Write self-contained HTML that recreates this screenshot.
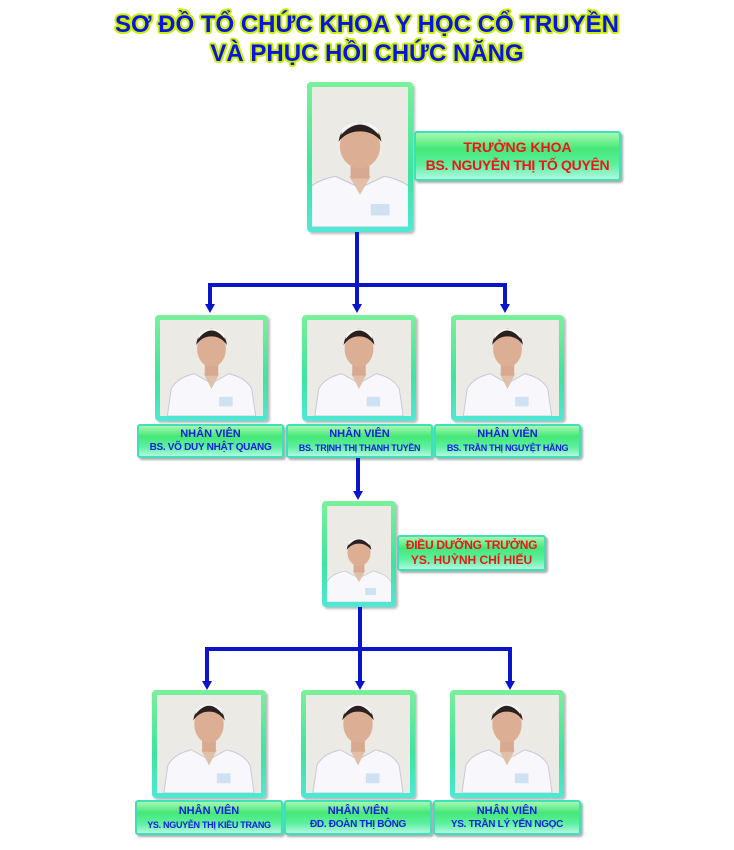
<!DOCTYPE html>
<html><head><meta charset="utf-8"><style>
body{margin:0;width:734px;height:850px;background:#fff;position:relative;overflow:hidden;font-family:"Liberation Sans",sans-serif;font-weight:bold}
.t{position:absolute;left:0;width:734px;text-align:center;font-size:24px;color:#0a14e0;
text-shadow:2px 0 0 #c8f000,-2px 0 0 #c8f000,0 2px 0 #c8f000,0 -2px 0 #c8f000,1.5px 1.5px 0 #c8f000,-1.5px -1.5px 0 #c8f000,1.5px -1.5px 0 #c8f000,-1.5px 1.5px 0 #c8f000}
.p{position:absolute;box-sizing:border-box;border-radius:4px;padding:5px;background:linear-gradient(180deg,#7af09a,#3ee3a0 60%,#4fe8d6);box-shadow:2px 2px 2px #bbb}
.p .in{width:100%;height:100%;background:#eceae4;overflow:hidden}
.p svg{width:100%;height:100%;display:block}
.l{position:absolute;box-sizing:border-box;border-radius:3px;background:linear-gradient(180deg,#a8f7b0 0%,#44e878 35%,#5ef0a0 70%,#b0f8e0 100%);border:2px solid #3de0b8;box-shadow:2px 2px 2px #aaa;text-align:center;color:#1420e0;font-size:11px;line-height:14px;display:flex;flex-direction:column;justify-content:center;white-space:nowrap;padding:0}
.l div{white-space:nowrap}
.s{font-size:10px;letter-spacing:-0.3px}
.r{color:#f01414;font-size:14px;line-height:18px}
.ln{position:absolute;background:#0a14c8}
.ar{position:absolute;width:0;height:0;border-left:5px solid transparent;border-right:5px solid transparent;border-top:9px solid #0a14c8}
</style></head><body>
<div class="t" style="top:11px">SƠ ĐỒ TỔ CHỨC KHOA Y HỌC CỔ TRUYỀN</div>
<div class="t" style="top:40px">VÀ PHỤC HỒI CHỨC NĂNG</div>

<svg width="0" height="0" style="position:absolute"><defs>
<g id="pp">
<path d="M4 100 L8 72 Q14 60 32 56 L50 66 L68 56 Q86 60 92 72 L96 100 Z" fill="#f8f8fc" stroke="#c8c8d8" stroke-width="1"/>
<path d="M42 56 L50 72 L58 56 Z" fill="#e0c0a8"/>
<rect x="43" y="44" width="14" height="14" fill="#d8a890"/>
<ellipse cx="50" cy="30" rx="15" ry="19" fill="#dcae94"/>
<path d="M34 26 Q36 10 50 9 Q64 10 66 26 Q60 17 50 17 Q40 17 34 26Z" fill="#2a2020"/>
<path d="M36 20 Q50 2 64 20 L63 14 Q50 4 37 14 Z" fill="#f4f4f4"/>
<rect x="58" y="80" width="14" height="10" fill="#cfe2f4"/>
</g></defs></svg>

<div class="p" style="left:307px;top:82px;width:106px;height:150px"><div class="in"><svg viewBox="0 0 100 140" preserveAspectRatio="xMidYMax meet"><use href="#pp" transform="translate(-20,20) scale(1.4,1.2)"/></svg></div></div>
<div class="l" style="left:414px;top:131px;width:207px;height:50px"><div class="r">TRƯỞNG KHOA</div><div class="r" style="letter-spacing:-0.3px">BS. NGUYỄN THỊ TỐ QUYÊN</div></div>

<div class="ln" style="left:355px;top:232px;width:4px;height:54px"></div>
<div class="ln" style="left:208px;top:283px;width:299px;height:4px"></div>
<div class="ln" style="left:208px;top:283px;width:4px;height:22px"></div>
<div class="ln" style="left:355px;top:283px;width:4px;height:22px"></div>
<div class="ln" style="left:503px;top:283px;width:4px;height:22px"></div>
<div class="ar" style="left:205px;top:304px"></div>
<div class="ar" style="left:352px;top:304px"></div>
<div class="ar" style="left:500px;top:304px"></div>

<div class="p" style="left:155px;top:315px;width:113px;height:106px"><div class="in"><svg viewBox="0 0 100 100" preserveAspectRatio="xMidYMax meet"><use href="#pp"/></svg></div></div>
<div class="p" style="left:302px;top:315px;width:114px;height:106px"><div class="in"><svg viewBox="0 0 100 100" preserveAspectRatio="xMidYMax meet"><use href="#pp"/></svg></div></div>
<div class="p" style="left:451px;top:315px;width:113px;height:106px"><div class="in"><svg viewBox="0 0 100 100" preserveAspectRatio="xMidYMax meet"><use href="#pp"/></svg></div></div>
<div class="l" style="left:137px;top:424px;width:147px;height:34px"><div>NHÂN VIÊN</div><div class="s">BS. VÕ DUY NHẬT QUANG</div></div>
<div class="l" style="left:286px;top:424px;width:147px;height:34px"><div>NHÂN VIÊN</div><div class="s" style="font-size:9px">BS. TRỊNH THỊ THANH TUYỀN</div></div>
<div class="l" style="left:434px;top:424px;width:147px;height:34px"><div>NHÂN VIÊN</div><div class="s" style="font-size:9px">BS. TRẦN THỊ NGUYỆT HẰNG</div></div>

<div class="ln" style="left:356px;top:458px;width:4px;height:34px"></div>
<div class="ar" style="left:353px;top:491px"></div>

<div class="p" style="left:322px;top:501px;width:74px;height:106px"><div class="in"><svg viewBox="0 0 100 140" preserveAspectRatio="xMidYMax meet"><use href="#pp" transform="translate(-10,30) scale(1.2,1.1)"/></svg></div></div>
<div class="l" style="left:397px;top:535px;width:149px;height:36px"><div class="r" style="font-size:12px;line-height:15px;letter-spacing:-0.3px">ĐIỀU DƯỠNG TRƯỞNG</div><div class="r" style="font-size:12px;line-height:15px">YS. HUỲNH CHÍ HIẾU</div></div>

<div class="ln" style="left:358px;top:607px;width:4px;height:43px"></div>
<div class="ln" style="left:205px;top:647px;width:307px;height:4px"></div>
<div class="ln" style="left:205px;top:647px;width:4px;height:35px"></div>
<div class="ln" style="left:358px;top:647px;width:4px;height:35px"></div>
<div class="ln" style="left:508px;top:647px;width:4px;height:35px"></div>
<div class="ar" style="left:202px;top:681px"></div>
<div class="ar" style="left:355px;top:681px"></div>
<div class="ar" style="left:505px;top:681px"></div>

<div class="p" style="left:152px;top:690px;width:114px;height:108px"><div class="in"><svg viewBox="0 0 100 100" preserveAspectRatio="xMidYMax meet"><use href="#pp"/></svg></div></div>
<div class="p" style="left:301px;top:690px;width:114px;height:108px"><div class="in"><svg viewBox="0 0 100 100" preserveAspectRatio="xMidYMax meet"><use href="#pp"/></svg></div></div>
<div class="p" style="left:450px;top:690px;width:114px;height:108px"><div class="in"><svg viewBox="0 0 100 100" preserveAspectRatio="xMidYMax meet"><use href="#pp"/></svg></div></div>
<div class="l" style="left:135px;top:800px;width:148px;height:35px"><div>NHÂN VIÊN</div><div class="s" style="font-size:9px">YS. NGUYỄN THỊ KIỀU TRANG</div></div>
<div class="l" style="left:284px;top:800px;width:148px;height:35px"><div>NHÂN VIÊN</div><div class="s">ĐD. ĐOÀN THỊ BÔNG</div></div>
<div class="l" style="left:433px;top:800px;width:148px;height:35px"><div>NHÂN VIÊN</div><div class="s">YS. TRẦN LÝ YẾN NGỌC</div></div>
</body></html>
